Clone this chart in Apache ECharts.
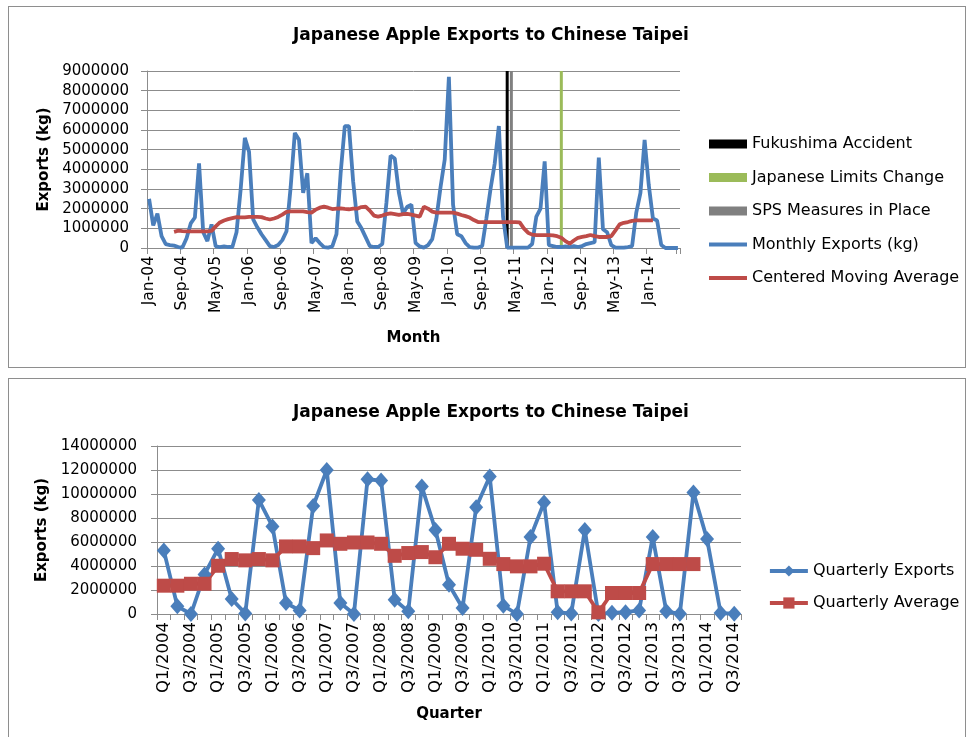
<!DOCTYPE html>
<html>
<head>
<meta charset="utf-8">
<title>Japanese Apple Exports to Chinese Taipei</title>
<script src="https://cdn.jsdelivr.net/npm/echarts@6/dist/echarts.min.js"></script>
<style>
  html, body { margin: 0; padding: 0; background: #ffffff; }
  .panel {
    position: absolute;
    left: 8px;
    width: 958px;
    border: 1px solid #8e8e8e;
    box-sizing: border-box;
    background: #ffffff;
  }
  #monthly { top: 6px; height: 362px; }
  #quarterly { top: 378px; height: 372px; }
</style>
</head>
<body>
<div id="monthly" class="panel"></div>
<div id="quarterly" class="panel"></div>
<script>
// ---- Monthly data (Jan 2004 - Aug 2014), kg ----
const monthNames = ['Jan', 'Feb', 'Mar', 'Apr', 'May', 'Jun', 'Jul', 'Aug', 'Sep', 'Oct', 'Nov', 'Dec'];
const monthYears = ['04', '05', '06', '07', '08', '09', '10', '11', '12', '13', '14'];
const monthCount = 128;

const monthlyExports = [
  2500000, 1150000, 1750000, 600000, 200000, 150000, 120000, 50000, 20000, 500000, 1250000, 1550000,
  4300000, 800000, 350000, 1200000, 80000, 50000, 80000, 50000, 50000, 800000, 3000000, 5600000,
  4900000, 1450000, 1050000, 700000, 400000, 100000, 50000, 150000, 400000, 850000, 3100000, 5850000,
  5500000, 2800000, 3800000, 250000, 500000, 250000, 50000, 20000, 80000, 700000, 3800000, 6200000,
  6200000, 3400000, 1350000, 1000000, 550000, 100000, 50000, 50000, 200000, 2300000, 4700000, 4550000,
  2800000, 1750000, 2100000, 2200000, 250000, 80000, 20000, 150000, 450000, 1500000, 3100000, 4500000,
  8700000, 2200000, 700000, 600000, 250000, 50000, 20000, 20000, 100000, 1500000, 3000000, 4300000,
  6200000, 1600000, 20000, 20000, 20000, 20000, 20000, 20000, 200000, 1600000, 2000000, 4400000,
  150000, 100000, 50000, 50000, 80000, 50000, 100000, 50000, 100000, 200000, 250000, 300000,
  4600000, 950000, 800000, 150000, 20000, 20000, 20000, 50000, 100000, 1800000, 2800000, 5500000,
  3200000, 1500000, 1400000, 150000, 0, 0, 0, 0
];

const movingAverage = [
  null, null, null, null, null, null, 820000, 880000, 860000, 850000, 850000, 850000,
  850000, 850000, 850000, 870000, 1100000, 1300000, 1400000, 1470000, 1520000, 1570000, 1560000, 1560000,
  1580000, 1580000, 1580000, 1570000, 1500000, 1450000, 1500000, 1580000, 1700000, 1840000, 1860000, 1860000,
  1860000, 1860000, 1820000, 1800000, 1950000, 2050000, 2100000, 2050000, 1980000, 2000000, 2020000, 1990000,
  1970000, 2000000, 2000000, 2080000, 2100000, 1900000, 1650000, 1600000, 1650000, 1720000, 1760000, 1720000,
  1680000, 1720000, 1740000, 1700000, 1650000, 1600000, 2100000, 2000000, 1850000, 1800000, 1800000, 1800000,
  1800000, 1800000, 1750000, 1680000, 1620000, 1550000, 1420000, 1320000, 1320000, 1320000, 1320000, 1320000,
  1320000, 1320000, 1320000, 1320000, 1320000, 1300000, 1000000, 780000, 680000, 650000, 650000, 650000,
  650000, 640000, 600000, 520000, 350000, 220000, 380000, 520000, 560000, 600000, 660000, 600000,
  560000, 560000, 560000, 600000, 900000, 1200000, 1280000, 1320000, 1380000, 1400000, 1400000, 1400000,
  1400000, 1400000, null, null, null, null, null, null
];

// Event markers drawn as full-height columns
const fukushimaAccident = [['Mar-11', 9000000]];
const limitsChange = [['Apr-12', 9000000]];
const spsMeasures = [['Apr-11', 9000000]];

const monthlyTicks = { max: 9000000, step: 1000000 };

// ---- Quarterly data (Q1 2004 - Q3 2014), kg ----
const quarterNames = ['Q1', 'Q2', 'Q3', 'Q4'];
const quarterYears = ['2004', '2005', '2006', '2007', '2008', '2009', '2010', '2011', '2012', '2013', '2014'];
const quarterCount = 43;

const quarterlyExports = [
  5300000, 640000, 0, 3300000, 5440000, 1250000, 50000, 9510000, 7300000, 920000,
  300000, 9000000, 12000000, 920000, 0, 11230000, 11120000, 1190000, 220000, 10620000,
  7000000, 2440000, 500000, 8900000, 11460000, 690000, 0, 6410000, 9290000, 140000,
  50000, 7000000, 0, 100000, 150000, 300000, 6410000, 220000, 20000, 10120000,
  6240000, 80000, 20000
];

const quarterlyAverage = [
  2360000, 2360000, 2520000, 2520000, 4020000, 4580000, 4470000, 4580000, 4470000, 5630000,
  5630000, 5490000, 6130000, 5850000, 5960000, 5960000, 5850000, 4850000, 5080000, 5160000,
  4730000, 5850000, 5440000, 5350000, 4600000, 4160000, 3970000, 3970000, 4190000, 1890000,
  1890000, 1890000, 140000, 1750000, 1750000, 1750000, 4160000, 4160000, 4160000, 4160000,
  null, null, null
];

const quarterlyTicks = { max: 14000000, step: 2000000 };

// ---- Category labels ----
const monthLabels = [];
for (let i = 0; i < monthCount; i++) {
  monthLabels.push(monthNames[i % 12] + '-' + monthYears[Math.floor(i / 12)]);
}
const quarterLabels = [];
for (let i = 0; i < quarterCount; i++) {
  quarterLabels.push(quarterNames[i % 4] + '/' + quarterYears[Math.floor(i / 4)]);
}

// ---- Shared styling ----
const FONT = '"DejaVu Sans", sans-serif';
const GRID_GREY = '#8c8c8c';
const BLUE = '#4a7ebb';
const RED = '#be4b48';
const LINE_ICON = 'path://M0,0H38V4H0Z';

function valueAxis(ticks, nameGap, margin) {
  return {
    type: 'value',
    min: 0,
    max: ticks.max,
    interval: ticks.step,
    name: 'Exports (kg)',
    nameLocation: 'middle',
    nameGap: nameGap,
    nameTextStyle: { fontFamily: FONT, fontSize: 15, fontWeight: 'bold', color: '#000' },
    axisLine: { show: true, lineStyle: { color: GRID_GREY, width: 1 } },
    axisTick: { show: true, length: 6, lineStyle: { color: GRID_GREY } },
    axisLabel: { fontFamily: FONT, fontSize: 15, color: '#000', margin: margin,
      formatter: function (v) { return String(v); } },
    splitLine: { show: true, lineStyle: { color: GRID_GREY, width: 1 } }
  };
}

function categoryAxis(labels, labelEvery, tickEvery, name, nameGap, fontSize) {
  return {
    type: 'category',
    data: labels,
    boundaryGap: true,
    name: name,
    nameLocation: 'middle',
    nameGap: nameGap,
    nameTextStyle: { fontFamily: FONT, fontSize: 15, fontWeight: 'bold', color: '#000' },
    axisLine: { show: true, lineStyle: { color: GRID_GREY, width: 1 } },
    axisTick: { show: true, interval: tickEvery - 1, length: 6, lineStyle: { color: GRID_GREY } },
    axisLabel: { interval: 0, rotate: 90, fontFamily: FONT, fontSize: fontSize, color: '#000', margin: 8,
      formatter: function (v, idx) { return idx % labelEvery === 0 ? v : ''; } },
    splitLine: { show: false }
  };
}

const titleStyle = { fontFamily: FONT, fontSize: 17, fontWeight: 'bold', color: '#000' };
const legendText = { fontFamily: FONT, fontSize: 16, color: '#000' };

// ---- Monthly chart ----
const monthlyChart = echarts.init(document.getElementById('monthly'), null, { renderer: 'canvas' });
monthlyChart.setOption({
  animation: false,
  textStyle: { fontFamily: FONT },
  title: { text: 'Japanese Apple Exports to Chinese Taipei', left: 279, top: 15, textStyle: titleStyle },
  grid: { left: 138, top: 64, width: 533, height: 177 },
  legend: {
    orient: 'vertical',
    left: 695,
    top: 124,
    itemWidth: 38,
    itemHeight: 9,
    itemGap: 17.5,
    textStyle: legendText,
    data: [
      { name: 'Fukushima Accident', icon: 'rect' },
      { name: 'Japanese Limits Change', icon: 'rect' },
      { name: 'SPS Measures in Place', icon: 'rect' },
      { name: 'Monthly Exports (kg)', icon: LINE_ICON },
      { name: 'Centered Moving Average', icon: LINE_ICON }
    ]
  },
  xAxis: categoryAxis(monthLabels, 8, 8, 'Month', 83, 15.5),
  yAxis: valueAxis(monthlyTicks, 82, 18),
  series: [
    { name: 'Fukushima Accident', type: 'bar', data: fukushimaAccident, barWidth: 3, barGap: '-100%',
      itemStyle: { color: '#000000' } },
    { name: 'Japanese Limits Change', type: 'bar', data: limitsChange, barWidth: 3, barGap: '-100%',
      itemStyle: { color: '#9bbb59' } },
    { name: 'SPS Measures in Place', type: 'bar', data: spsMeasures, barWidth: 3, barGap: '-100%',
      itemStyle: { color: '#808080' } },
    { name: 'Monthly Exports (kg)', type: 'line', data: monthlyExports, symbol: 'none',
      lineStyle: { color: BLUE, width: 3.8 }, itemStyle: { color: BLUE } },
    { name: 'Centered Moving Average', type: 'line', data: movingAverage, symbol: 'none',
      lineStyle: { color: RED, width: 3.8 }, itemStyle: { color: RED } }
  ]
});

// ---- Quarterly chart ----
const quarterlyChart = echarts.init(document.getElementById('quarterly'), null, { renderer: 'canvas' });
quarterlyChart.setOption({
  animation: false,
  textStyle: { fontFamily: FONT },
  title: { text: 'Japanese Apple Exports to Chinese Taipei', left: 279, top: 20, textStyle: titleStyle },
  grid: { left: 148, top: 67, width: 584, height: 168 },
  legend: {
    orient: 'vertical',
    left: 754,
    top: 179,
    itemWidth: 38,
    itemHeight: 14,
    itemGap: 16,
    textStyle: legendText,
    lineStyle: { width: 3.8 },
    data: ['Quarterly Exports', 'Quarterly Average']
  },
  xAxis: categoryAxis(quarterLabels, 2, 1, 'Quarter', 93, 16.5),
  yAxis: valueAxis(quarterlyTicks, 90, 20),
  series: [
    { name: 'Quarterly Exports', type: 'line', data: quarterlyExports, symbol: 'diamond', symbolSize: [14, 16],
      lineStyle: { color: BLUE, width: 3.8 }, itemStyle: { color: BLUE } },
    { name: 'Quarterly Average', type: 'line', data: quarterlyAverage, symbol: 'rect', symbolSize: 14,
      lineStyle: { color: RED, width: 3.8 }, itemStyle: { color: RED } }
  ]
});
</script>
</body>
</html>
